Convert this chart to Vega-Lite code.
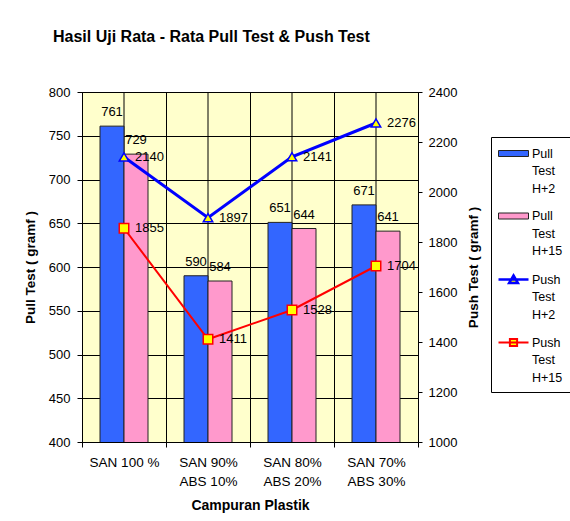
{
  "$schema": "https://vega.github.io/schema/vega-lite/v6.json",
  "autosize": {"type": "none"},
  "width": 336,
  "height": 350,
  "padding": {"left": 82, "top": 92, "right": 152, "bottom": 79},
  "background": "white",
  "config": {
    "font": "Liberation Sans",
    "view": {"fill": "#FFFFCC", "stroke": "black", "strokeWidth": 1},
    "style": {"guide-label": {"lineHeight": 17.5}}
  },
  "title": {
    "text": "Hasil Uji Rata - Rata Pull Test & Push Test",
    "anchor": "start",
    "frame": "group",
    "font": "Liberation Sans",
    "fontSize": 16,
    "fontWeight": "bold",
    "color": "black",
    "dx": -29,
    "offset": 41
  },
  "datasets": {
    "pull": [
      {"cat": "SAN 100 %", "series": "Pull Test H+2", "value": 761},
      {"cat": "SAN 100 %", "series": "Pull Test H+15", "value": 729},
      {"cat": "SAN 90%\nABS 10%", "series": "Pull Test H+2", "value": 590},
      {"cat": "SAN 90%\nABS 10%", "series": "Pull Test H+15", "value": 584},
      {"cat": "SAN 80%\nABS 20%", "series": "Pull Test H+2", "value": 651},
      {"cat": "SAN 80%\nABS 20%", "series": "Pull Test H+15", "value": 644},
      {"cat": "SAN 70%\nABS 30%", "series": "Pull Test H+2", "value": 671},
      {"cat": "SAN 70%\nABS 30%", "series": "Pull Test H+15", "value": 641}
    ],
    "push": [
      {"cat": "SAN 100 %", "series": "Push Test H+2", "value": 2140},
      {"cat": "SAN 90%\nABS 10%", "series": "Push Test H+2", "value": 1897},
      {"cat": "SAN 80%\nABS 20%", "series": "Push Test H+2", "value": 2141},
      {"cat": "SAN 70%\nABS 30%", "series": "Push Test H+2", "value": 2276},
      {"cat": "SAN 100 %", "series": "Push Test H+15", "value": 1855},
      {"cat": "SAN 90%\nABS 10%", "series": "Push Test H+15", "value": 1411},
      {"cat": "SAN 80%\nABS 20%", "series": "Push Test H+15", "value": 1528},
      {"cat": "SAN 70%\nABS 30%", "series": "Push Test H+15", "value": 1704}
    ]
  },
  "encoding": {
    "x": {
      "field": "cat",
      "type": "nominal",
      "sort": null,
      "scale": {"paddingInner": 0, "paddingOuter": 0},
      "axis": {
        "title": "Campuran Plastik",
        "titleFont": "Liberation Sans",
        "titleFontSize": 14,
        "titleFontWeight": "bold",
        "titleColor": "black",
        "titlePadding": 11,
        "labelAngle": 0,
        "labelFont": "Liberation Sans",
        "labelFontSize": 13.5,
        "labelColor": "black",
        "labelLineHeight": 19,
        "labelPadding": 8,
        "labelExpr": "split(datum.label, '\\n')",
        "tickBand": "extent",
        "tickColor": "black",
        "tickSize": 5,
        "domainColor": "black",
        "grid": true,
        "gridColor": "black",
        "gridWidth": 1,
        "gridOpacity": 1
      }
    }
  },
  "layer": [
    {
      "data": {"name": "pull"},
      "layer": [
        {
          "transform": [{"filter": "datum.series === 'Pull Test H+2'"}],
          "mark": {"type": "rule", "color": "black", "strokeWidth": 1},
          "encoding": {}
        },
        {
          "mark": {"type": "bar", "clip": true},
          "encoding": {
            "xOffset": {
              "field": "series",
              "type": "nominal",
              "sort": ["Pull Test H+2", "Pull Test H+15"],
              "scale": {"paddingInner": 0, "paddingOuter": 0.75}
            },
            "y": {
              "field": "value",
              "type": "quantitative",
              "scale": {"domain": [400, 800], "nice": false, "zero": false},
              "axis": {
                "title": "Pull Test ( gramf )",
                "titleFont": "Liberation Sans",
                "titleFontSize": 13.5,
                "titleFontWeight": "bold",
                "titleColor": "black",
                "titlePadding": 11,
                "values": [400, 450, 500, 550, 600, 650, 700, 750, 800],
                "labelFont": "Liberation Sans",
                "labelFontSize": 13,
                "labelColor": "black",
                "labelPadding": 7,
                "tickColor": "black",
                "tickSize": 5,
                "domainColor": "black",
                "grid": true,
                "gridColor": "black",
                "gridWidth": 1,
                "gridOpacity": 1
              }
            },
            "fill": {
              "field": "series",
              "type": "nominal",
              "scale": {
                "domain": ["Pull Test H+2", "Pull Test H+15", "Push Test H+2", "Push Test H+15"],
                "range": ["#3366FF", "#FF99CC", "#FFFF00", "#FFFF00"]
              },
              "legend": {
                "orient": "none",
                "legendX": 409,
                "legendY": 45,
                "title": null,
                "strokeColor": "black",
                "fillColor": "white",
                "padding": 8,
                "rowPadding": 12.5,
                "labelExpr": "split(datum.label, ' ')",
                "labelFont": "Liberation Sans",
                "labelFontSize": 12.5,
                "labelColor": "black",
                "labelOffset": 14,
                "symbolSize": 256,
                "symbolOpacity": 1
              }
            },
            "stroke": {
              "field": "series",
              "type": "nominal",
              "scale": {
                "domain": ["Pull Test H+2", "Pull Test H+15", "Push Test H+2", "Push Test H+15"],
                "range": ["#222222", "#222222", "#0000FF", "#FF0000"]
              },
              "legend": {"title": null}
            },
            "strokeWidth": {
              "field": "series",
              "type": "nominal",
              "scale": {
                "type": "ordinal",
                "domain": ["Pull Test H+2", "Pull Test H+15", "Push Test H+2", "Push Test H+15"],
                "range": [1, 1, 2.5, 2]
              },
              "legend": {"title": null}
            }
          }
        },
        {
          "mark": {"type": "text", "fontSize": 13, "color": "black", "baseline": "alphabetic", "dy": -10},
          "encoding": {
            "xOffset": {
              "field": "series",
              "type": "nominal",
              "sort": ["Pull Test H+2", "Pull Test H+15"],
              "scale": {"paddingInner": 0, "paddingOuter": 0.75}
            },
            "y": {"field": "value", "type": "quantitative"},
            "text": {"field": "value", "type": "quantitative"}
          }
        }
      ]
    },
    {
      "data": {"name": "push"},
      "encoding": {
        "y": {
          "field": "value",
          "type": "quantitative",
          "scale": {"domain": [1000, 2400], "nice": false, "zero": false},
          "axis": {
            "orient": "right",
            "title": "Push Test ( gramf )",
            "titleFont": "Liberation Sans",
            "titleFontSize": 13.5,
            "titleFontWeight": "bold",
            "titleColor": "black",
            "titleAngle": 270,
            "titlePadding": 24,
            "values": [1000, 1200, 1400, 1600, 1800, 2000, 2200, 2400],
            "format": "d",
            "labelFont": "Liberation Sans",
            "labelFontSize": 13,
            "labelColor": "black",
            "labelPadding": 6,
            "tickColor": "black",
            "tickSize": 4,
            "domainColor": "black",
            "grid": false
          }
        }
      },
      "layer": [
        {
          "mark": {"type": "point", "opacity": 0},
          "encoding": {
            "shape": {
              "field": "series",
              "type": "nominal",
              "scale": {
                "domain": ["Pull Test H+2", "Pull Test H+15", "Push Test H+2", "Push Test H+15"],
                "range": [
                  "M-1.25,-0.375H2.5V0.375H-1.25Z",
                  "M-1.25,-0.375H2.5V0.375H-1.25Z",
                  "M-1.25,0H2.5M0.625,-0.5L1.175,0.45L0.075,0.45Z",
                  "M-1.25,0H2.5M0.175,-0.45H1.075V0.45H0.175Z"
                ]
              },
              "legend": {"title": null}
            }
          }
        },
        {
          "transform": [{"filter": "datum.series === 'Push Test H+2'"}],
          "mark": {"type": "line", "stroke": "#0000FF", "strokeWidth": 3},
          "encoding": {}
        },
        {
          "transform": [{"filter": "datum.series === 'Push Test H+15'"}],
          "mark": {"type": "line", "stroke": "#FF0000", "strokeWidth": 2},
          "encoding": {}
        },
        {
          "transform": [{"filter": "datum.series === 'Push Test H+2'"}],
          "mark": {"type": "point", "shape": "triangle-up", "filled": true, "fill": "#FFFF00", "stroke": "#0000FF", "strokeWidth": 1.5, "size": 90, "opacity": 1},
          "encoding": {}
        },
        {
          "transform": [{"filter": "datum.series === 'Push Test H+15'"}],
          "mark": {"type": "point", "shape": "square", "filled": true, "fill": "#FFFF00", "stroke": "#FF0000", "strokeWidth": 1.5, "size": 90, "opacity": 1},
          "encoding": {}
        },
        {
          "mark": {"type": "text", "fontSize": 13, "color": "black", "align": "left", "baseline": "middle", "dx": 11},
          "encoding": {"text": {"field": "value", "type": "quantitative", "format": "d"}}
        }
      ]
    }
  ],
  "resolve": {"scale": {"y": "independent"}}
}
